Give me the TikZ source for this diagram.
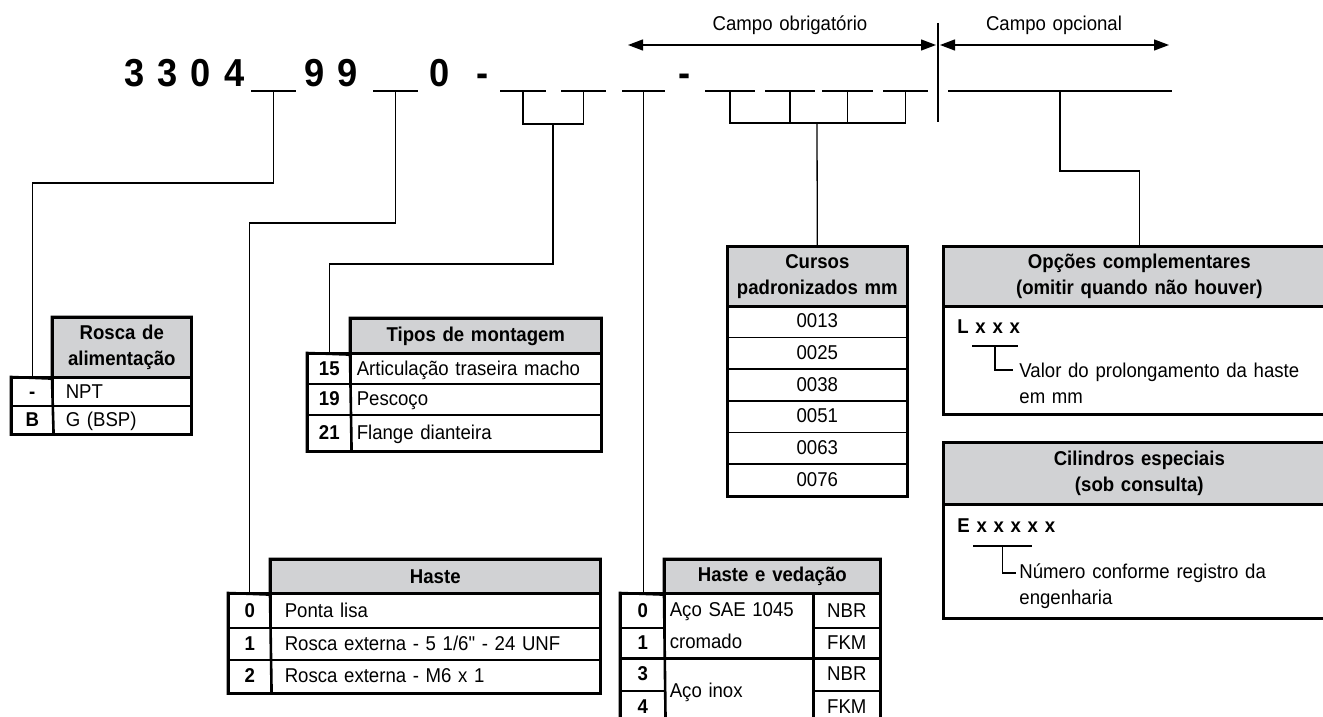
\documentclass[tikz,border=0pt]{standalone}
\usepackage{fontspec}
\setmainfont{Liberation Sans}[FakeStretch=0.93, WordSpace=1.3]
\newfontfamily\plainfont{Liberation Sans}[FakeStretch=0.93]
\usepackage{tikz}
\usetikzlibrary{positioning,arrows.meta}

\definecolor{headgray}{RGB}{209,210,212}
\newcommand{\tabfont}{\fontsize{10}{13}\selectfont}
\newcommand{\codefont}{\fontsize{19.5}{23}\selectfont\bfseries}

\tikzset{
    cell/.style={draw, line width=0.8pt, inner sep=0pt, anchor=north west, font=\tabfont},
    oneline/.style={text height=7.2pt, text depth=1pt},
    headcell/.style={cell, fill=headgray, align=center, font=\tabfont\bfseries},
    keycell/.style={cell, oneline, minimum width=#1, font=\tabfont\bfseries},
    valcell/.style 2 args={cell, oneline, align=left, text width=#1, inner xsep=#2},
    tabframe/.style={line width=1.3pt},
    slot/.style={line width=1.4pt},
    leader/.style={line width=0.65pt},
    fieldspan/.style={leader, {Triangle[length=7.5pt,width=5.5pt]}-{Triangle[length=7.5pt,width=5.5pt]}},
    codetext/.style={inner sep=0pt, anchor=base west, font=\codefont},
    codesmall/.style={inner sep=0pt, anchor=base west, font=\tabfont\bfseries},
    fieldlabel/.style={inner sep=0pt, anchor=base, font=\tabfont},
    notetext/.style={inner sep=0pt, anchor=north west, align=left, font=\tabfont},
}

\begin{document}
\begin{tikzpicture}[x=0.5pt, y=-0.5pt]
        \useasboundingbox (0,0) rectangle (1323,717);
        \clip (0,0) rectangle (1323,717);

        % code line
        \node[codetext] (n3304) at (124,87) {3 3 0 4};
        \node[codetext] (n99) at (304,87) {9 9};
        \node[codetext] (n0) at (429,87) {0};
        \node[codetext] (dash1) at (476,87) {-};
        \node[codetext] (dash2) at (678,87) {-};
        \foreach \a/\b [count=\i] in {251/296,373/418,500/546,561/606,622/665,705/755,765/815,822/873,883/928}{
            \draw[slot] (\a,91) -- (\b,91);
            \coordinate (s\i) at ({(\a+\b)/2},91);
        }
        \draw[slot] (948,91) -- (1172,91);
        \coordinate (sopt) at (1060,91);

        % fields
        \coordinate (divtop) at (938,23);
        \coordinate (divbot) at (938,122);
        \coordinate (obl-l) at (628,45);
        \coordinate (obl-r) at (936,45);
        \coordinate (opc-l) at (940,45);
        \coordinate (opc-r) at (1169,45);
        \draw[leader] (divtop) -- (divbot);
        \draw[fieldspan] (obl-l) -- (obl-r);
        \draw[fieldspan] (opc-l) -- (opc-r);
        \node[fieldlabel] (obl) at (790,31) {Campo obrigatório};
        \node[fieldlabel] (opc) at (1054,31) {Campo opcional};

        % Rosca de alimentacao
        \node[headcell, minimum width=69pt, minimum height=30pt] (rh) at (52,317) {Rosca de\\alimentação};
        \node[keycell=20.5pt, minimum height=14pt] (rk1) at (11,377) {-};
        \node[keycell=20.5pt, minimum height=14pt] (rk2) at (11,405) {B};
        \node[valcell={56pt}{6.5pt}, minimum height=14pt] (rv1) at (52,377) {NPT};
        \node[valcell={56pt}{6.5pt}, minimum height=14pt] (rv2) at (52,405) {G (BSP)};
        \draw[tabframe] (rh.north west) -| (rv2.south east) -| (rk1.north west) -- (rh.south west) -- cycle;
        \draw[tabframe] (rk1.north west) -- (rv1.north east);
        \draw[tabframe] (rh.south west) -- (rk2.south east);

        % Tipos de montagem
        \node[headcell, minimum width=125pt, minimum height=17.5pt] (th) at (350,318) {Tipos de montagem};
        \node[keycell=21.5pt, minimum height=15pt] (tk15) at (307,353) {15};
        \node[keycell=21.5pt, minimum height=15.5pt] (tk19) at (307,383) {19};
        \node[keycell=21.5pt, minimum height=18pt] (tk21) at (307,414) {21};
        \node[valcell={119pt}{3pt}, minimum height=15pt] (tv15) at (350,353) {Articulação traseira macho};
        \node[valcell={119pt}{3pt}, minimum height=15.5pt] (tv19) at (350,383) {Pescoço};
        \node[valcell={119pt}{3pt}, minimum height=18pt] (tv21) at (350,414) {Flange dianteira};
        \draw[tabframe] (th.north west) -| (tv21.south east) -| (tk15.north west) -- (th.south west) -- cycle;
        \draw[tabframe] (tk15.north west) -- (tv15.north east);
        \draw[tabframe] (th.south west) -- (tk21.south east);

        % Haste
        \node[headcell, minimum width=164.5pt, minimum height=17pt] (hh) at (270,559) {Haste};
        \node[keycell=21pt, minimum height=17pt] (hk0) at (228,593) {0};
        \node[keycell=21pt, minimum height=16pt] (hk1) at (228,627) {1};
        \node[keycell=21pt, minimum height=16.5pt] (hk2) at (228,659) {2};
        \node[valcell={150.5pt}{7pt}, minimum height=17pt] (hv0) at (270,593) {Ponta lisa};
        \node[valcell={150.5pt}{7pt}, minimum height=16pt] (hv1) at (270,627) {Rosca externa - 5 1/6{\plainfont"} - 24 UNF};
        \node[valcell={150.5pt}{7pt}, minimum height=16.5pt] (hv2) at (270,659) {Rosca externa - M6 x 1};
        \draw[tabframe] (hh.north west) -| (hv2.south east) -| (hk0.north west) -- (hh.south west) -- cycle;
        \draw[tabframe] (hk0.north west) -- (hv0.north east);
        \draw[tabframe] (hh.south west) -- (hk2.south east);

        % Haste e vedacao
        \node[headcell, minimum width=107.5pt, minimum height=17pt] (vh) at (664,559) {Haste e vedação};
        \node[keycell=22pt, minimum height=17pt] (vk0) at (620,593) {0};
        \node[keycell=22pt, minimum height=15pt] (vk1) at (620,627) {1};
        \node[keycell=22pt, minimum height=16.5pt] (vk3) at (620,657) {3};
        \node[keycell=22pt, minimum height=16.5pt] (vk4) at (620,690) {4};
        \node[valcell={69.5pt}{2.5pt}, text height=, text depth=, minimum height=32pt, font=\fontsize{10}{16}\selectfont] (vm1) at (664,593) {Aço SAE 1045\\cromado};
        \node[valcell={69.5pt}{2.5pt}, minimum height=33pt] (vm2) at (664,657) {Aço inox};
        \node[cell, oneline, minimum width=33pt, minimum height=17pt] (vs0) at (813,593) {NBR};
        \node[cell, oneline, minimum width=33pt, minimum height=15pt] (vs1) at (813,627) {FKM};
        \node[cell, oneline, minimum width=33pt, minimum height=16.5pt] (vs3) at (813,657) {NBR};
        \node[cell, oneline, minimum width=33pt, minimum height=16.5pt] (vs4) at (813,690) {FKM};
        \draw[tabframe] (vh.north west) -| (vs4.south east) -| (vk0.north west) -- (vh.south west) -- cycle;
        \draw[tabframe] (vk0.north west) -- (vs0.north east);
        \draw[tabframe] (vk1.south west) -- (vs1.south east);
        \draw[tabframe] (vh.south west) -- (vk4.south east);
        \draw[tabframe] (vs0.north west) -- (vs4.south west);

        % Cursos padronizados
        \node[headcell, minimum width=89.5pt, minimum height=29.5pt] (ch) at (727,246) {Cursos\\padronizados mm};
        \foreach \v [count=\i] in {0013,0025,0038,0051,0063,0076}
            \node[cell, oneline, minimum width=89.5pt, minimum height=15.83pt] (c\i) at (727,{305+31.67*(\i-1)}) {\v};
        \draw[tabframe] (ch.north west) rectangle (c6.south east);
        \draw[tabframe] (ch.south west) -- (ch.south east);

        % Opcoes complementares
        \node[headcell, minimum width=195.5pt, minimum height=29.5pt] (oh) at (943,246) {Opções complementares\\(omitir quando não houver)};
        \node[cell, minimum width=195.5pt, minimum height=54pt] (ob) at (943,305) {};
        \draw[tabframe] (oh.north west) rectangle (ob.south east);
        \draw[tabframe] (oh.south west) -- (oh.south east);
        \node[codesmall] (lcode) at (957,333) {L x x x};
        \draw[slot, line width=1.1pt] (972,346) -- (1018,346);
        \coordinate (lbar) at (995,346);
        \coordinate (lhook) at (1013,370);
        \draw[leader] (lbar) |- (lhook);
        \node[notetext] (lnote) at (1019,363) {Valor do prolongamento da haste\\em mm};

        % Cilindros especiais
        \node[headcell, minimum width=195.5pt, minimum height=30.5pt] (sh) at (943,442) {Cilindros especiais\\(sob consulta)};
        \node[cell, minimum width=195.5pt, minimum height=57pt] (sb) at (943,503) {};
        \draw[tabframe] (sh.north west) rectangle (sb.south east);
        \draw[tabframe] (sh.south west) -- (sh.south east);
        \node[codesmall] (ecode) at (957,532) {E x x x x x};
        \draw[slot, line width=1.1pt] (973,546) -- (1032,546);
        \coordinate (ebar) at (1002.5,546);
        \coordinate (ehook) at (1016,573);
        \draw[leader] (ebar) |- (ehook);
        \node[notetext] (enote) at (1019,563) {Número conforme registro da\\engenharia};

        % leaders from the code to the tables
        \coordinate (tjoin) at (553,124);
        \coordinate (cjoin) at (817,123);
        \draw[leader] (s1) -- ++(0,92) -| (rk1.north);
        \draw[leader] (s2) -- ++(0,132) -| (hk0.north);
        \draw[leader] (s3) |- (tjoin) -| (s4);
        \draw[leader] (tjoin) -- ++(0,140) -| (tk15.north);
        \draw[leader] (s5) -- (s5 |- vk0.north);
        \draw[leader] (s6) |- (cjoin) -| (s9);
        \draw[leader] (s7) -- (s7 |- cjoin);
        \draw[leader] (s8) -- (s8 |- cjoin);
        \draw[leader] (cjoin) -- (ch.north);
        \draw[leader] (sopt) -- ++(0,80) -| (oh.north);
\end{tikzpicture}
\end{document}
